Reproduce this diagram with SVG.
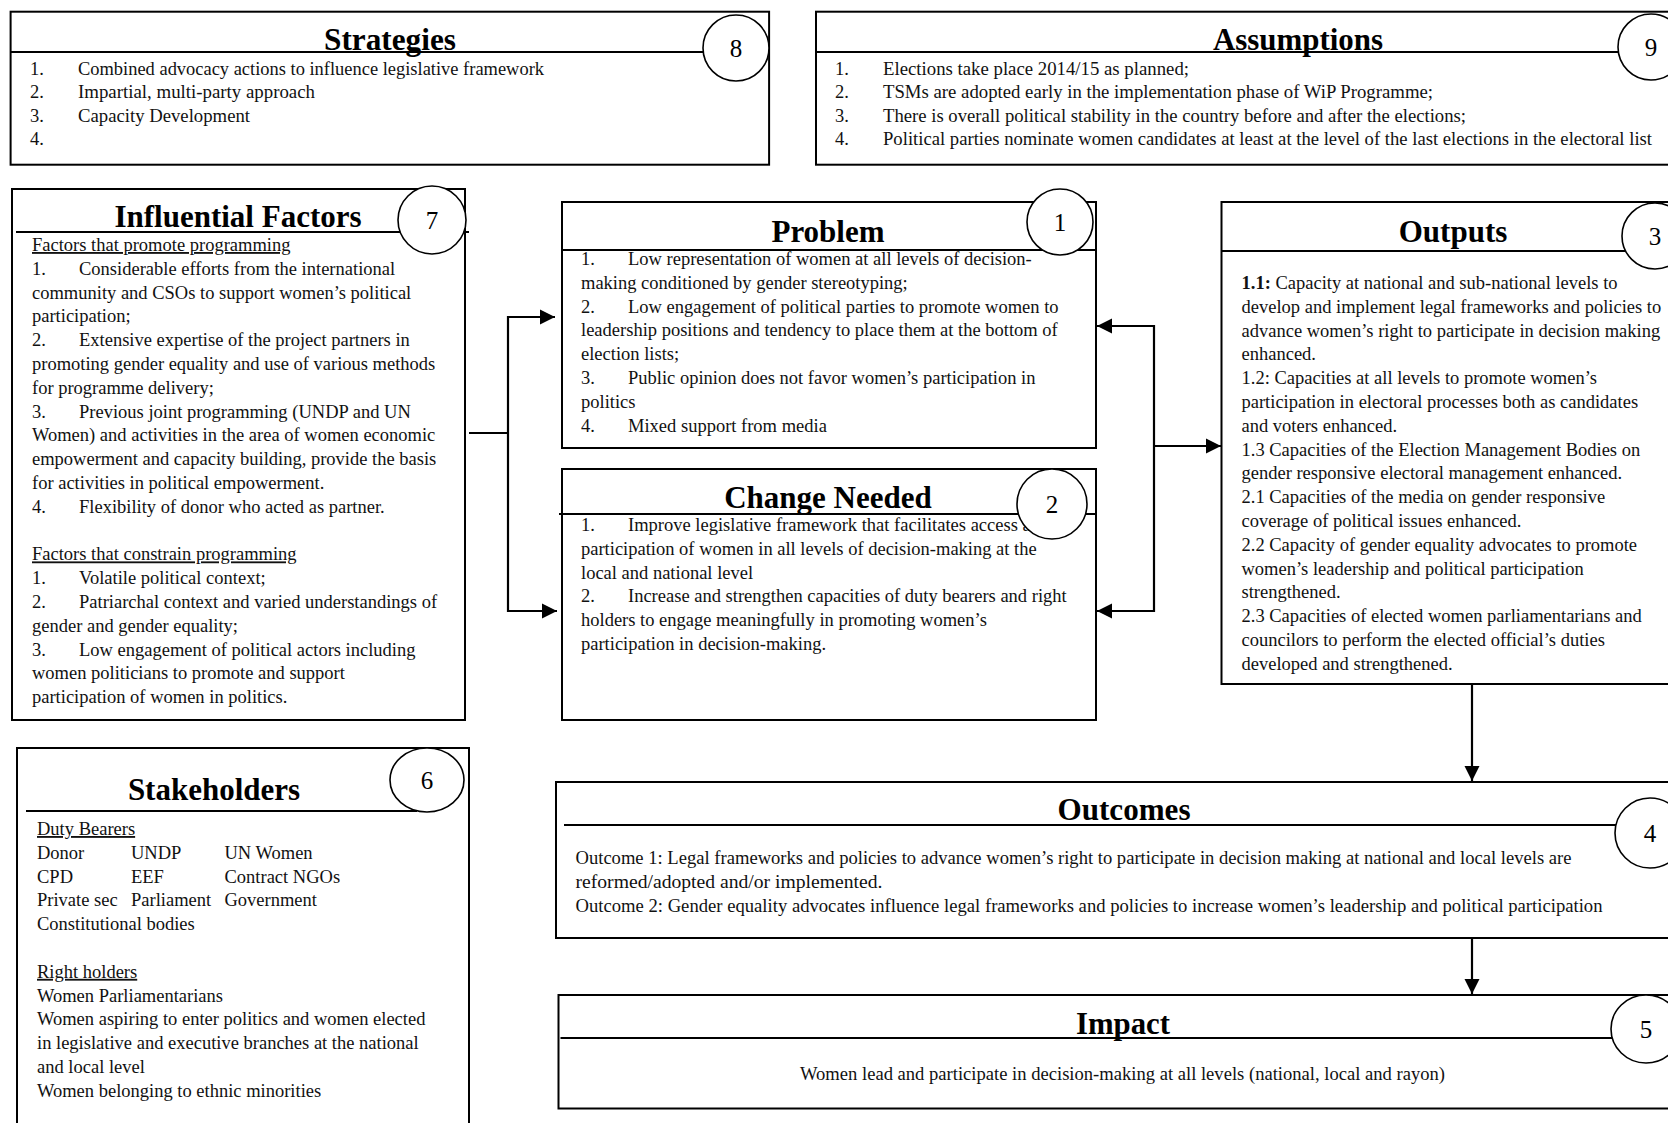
<svg xmlns="http://www.w3.org/2000/svg" width="1668" height="1123" viewBox="0 0 1668 1123">
<style>
.box{fill:#fff;stroke:#000;stroke-width:2}
.hl{stroke:#000;stroke-width:2.2;fill:none}
.cir{fill:#fff;stroke:#000;stroke-width:1.6}
.t{font-family:"Liberation Serif","Times New Roman",serif;font-size:18.5px;fill:#111}
.tc{font-family:"Liberation Serif","Times New Roman",serif;font-size:18.5px;fill:#111}
.h{font-family:"Liberation Serif","Times New Roman",serif;font-weight:bold;font-size:31px;text-anchor:middle;fill:#000}
.n{font-family:"Liberation Serif","Times New Roman",serif;font-size:25px;text-anchor:middle;fill:#000}
.u{text-decoration:underline}
.con{stroke:#000;stroke-width:2.2;fill:none}
</style>
<defs>
<marker id="arr" markerUnits="userSpaceOnUse" markerWidth="16" markerHeight="16" viewBox="0 0 16 16" refX="15" refY="8" orient="auto">
<path d="M0,0.5 L15,8 L0,15.5 Z" fill="#000"/>
</marker>
</defs>
<rect width="1668" height="1123" fill="#fff"/>

<g id="strategies">
<rect class="box" x="10.6" y="11.7" width="758.5" height="153"/>
<line class="hl" x1="10.6" y1="52" x2="710" y2="52"/>
<text class="h" x="390" y="50" textLength="132" lengthAdjust="spacingAndGlyphs">Strategies</text>
<ellipse class="cir" cx="736" cy="48" rx="33" ry="33"/>
<text class="n" x="736" y="57">8</text>
<text class="tc" x="30" y="75">1.</text><text class="tc" x="78" y="75" textLength="466" lengthAdjust="spacingAndGlyphs">Combined advocacy actions to influence legislative framework</text>
<text class="tc" x="30" y="98">2.</text><text class="tc" x="78" y="98" textLength="237" lengthAdjust="spacingAndGlyphs">Impartial, multi-party approach</text>
<text class="tc" x="30" y="121.5">3.</text><text class="tc" x="78" y="121.5" textLength="172" lengthAdjust="spacingAndGlyphs">Capacity Development</text>
<text class="tc" x="30" y="145">4.</text>
</g>

<g id="assumptions">
<rect class="box" x="816" y="11.7" width="880" height="153"/>
<line class="hl" x1="816" y1="52" x2="1625" y2="52"/>
<text class="h" x="1298" y="50" textLength="170" lengthAdjust="spacingAndGlyphs">Assumptions</text>
<ellipse class="cir" cx="1651" cy="47" rx="33" ry="33"/>
<text class="n" x="1651" y="56">9</text>
<text class="tc" x="835" y="75">1.</text><text class="tc" x="883" y="75" textLength="306" lengthAdjust="spacingAndGlyphs">Elections take place 2014/15 as planned;</text>
<text class="tc" x="835" y="98">2.</text><text class="tc" x="883" y="98" textLength="550" lengthAdjust="spacingAndGlyphs">TSMs are adopted early in the implementation phase of WiP Programme;</text>
<text class="tc" x="835" y="121.5">3.</text><text class="tc" x="883" y="121.5" textLength="583" lengthAdjust="spacingAndGlyphs">There is overall political stability in the country before and after the elections;</text>
<text class="tc" x="835" y="145">4.</text><text class="tc" x="883" y="145" textLength="769" lengthAdjust="spacingAndGlyphs">Political parties nominate women candidates at least at the level of the last elections in the electoral list</text>
</g>

<g id="influential-factors">
<rect class="box" x="12" y="189" width="453" height="531"/>
<line class="hl" x1="16" y1="232" x2="469" y2="232"/>
<text class="h" x="238" y="227">Influential Factors</text>
<ellipse class="cir" cx="432" cy="220" rx="34" ry="34"/>
<text class="n" x="432" y="229">7</text>
<text class="t u" x="32" y="251">Factors that promote programming</text>
<text class="t" x="32" y="274.8">1.</text><text class="t" x="79" y="274.8">Considerable efforts from the international</text>
<text class="t" x="32" y="298.6">community and CSOs to support women’s political</text>
<text class="t" x="32" y="322.4">participation;</text>
<text class="t" x="32" y="346.2">2.</text><text class="t" x="79" y="346.2">Extensive expertise of the project partners in</text>
<text class="t" x="32" y="370">promoting gender equality and use of various methods</text>
<text class="t" x="32" y="393.8">for programme delivery;</text>
<text class="t" x="32" y="417.6">3.</text><text class="t" x="79" y="417.6">Previous joint programming (UNDP and UN</text>
<text class="t" x="32" y="441.4">Women) and activities in the area of women economic</text>
<text class="t" x="32" y="465.2">empowerment and capacity building, provide the basis</text>
<text class="t" x="32" y="489">for activities in political empowerment.</text>
<text class="t" x="32" y="512.8">4.</text><text class="t" x="79" y="512.8">Flexibility of donor who acted as partner.</text>
<text class="t u" x="32" y="560.4">Factors that constrain programming</text>
<text class="t" x="32" y="584.2">1.</text><text class="t" x="79" y="584.2">Volatile political context;</text>
<text class="t" x="32" y="608">2.</text><text class="t" x="79" y="608">Patriarchal context and varied understandings of</text>
<text class="t" x="32" y="631.8">gender and gender equality;</text>
<text class="t" x="32" y="655.6">3.</text><text class="t" x="79" y="655.6">Low engagement of political actors including</text>
<text class="t" x="32" y="679.4">women politicians to promote and support</text>
<text class="t" x="32" y="703.2">participation of women in politics.</text>
</g>

<g id="problem">
<rect class="box" x="562" y="202" width="534" height="246"/>
<line class="hl" x1="562" y1="250" x2="1096" y2="250"/>
<text class="h" x="828" y="242">Problem</text>
<ellipse class="cir" cx="1060" cy="222" rx="33" ry="33"/>
<text class="n" x="1060" y="231">1</text>
<text class="t" x="581" y="265">1.</text><text class="t" x="628" y="265">Low representation of women at all levels of decision-</text>
<text class="t" x="581" y="288.8">making conditioned by gender stereotyping;</text>
<text class="t" x="581" y="312.6">2.</text><text class="t" x="628" y="312.6">Low engagement of political parties to promote women to</text>
<text class="t" x="581" y="336.4">leadership positions and tendency to place them at the bottom of</text>
<text class="t" x="581" y="360.2">election lists;</text>
<text class="t" x="581" y="384">3.</text><text class="t" x="628" y="384">Public opinion does not favor women’s participation in</text>
<text class="t" x="581" y="407.8">politics</text>
<text class="t" x="581" y="431.6">4.</text><text class="t" x="628" y="431.6">Mixed support from media</text>
</g>

<g id="change-needed">
<rect class="box" x="562" y="469" width="534" height="251"/>
<text class="t" x="581" y="531">1.</text><text class="t" x="628" y="531">Improve legislative framework that facilitates access and</text>
<text class="t" x="581" y="554.8">participation of women in all levels of decision-making at the</text>
<text class="t" x="581" y="578.6">local and national level</text>
<text class="t" x="581" y="602.4">2.</text><text class="t" x="628" y="602.4">Increase and strengthen capacities of duty bearers and right</text>
<text class="t" x="581" y="626.2">holders to engage meaningfully in promoting women’s</text>
<text class="t" x="581" y="650">participation in decision-making.</text>
<line class="hl" x1="559" y1="514" x2="1096" y2="514"/>
<text class="h" x="828" y="508">Change Needed</text>
<ellipse class="cir" cx="1052" cy="504" rx="35" ry="35"/>
<text class="n" x="1052" y="513">2</text>
</g>

<g id="outputs">
<rect class="box" x="1221.5" y="202" width="470" height="482"/>
<line class="hl" x1="1221.5" y1="251" x2="1625" y2="251"/>
<text class="h" x="1453" y="242">Outputs</text>
<ellipse class="cir" cx="1655" cy="236" rx="33" ry="33"/>
<text class="n" x="1655" y="245">3</text>
<text class="t" x="1241.5" y="289"><tspan font-weight="bold">1.1:</tspan> Capacity at national and sub-national levels to</text>
<text class="t" x="1241.5" y="312.8">develop and implement legal frameworks and policies to</text>
<text class="t" x="1241.5" y="336.6">advance women’s right to participate in decision making</text>
<text class="t" x="1241.5" y="360.4">enhanced.</text>
<text class="t" x="1241.5" y="384.2">1.2: Capacities at all levels to promote women’s</text>
<text class="t" x="1241.5" y="408">participation in electoral processes both as candidates</text>
<text class="t" x="1241.5" y="431.8">and voters enhanced.</text>
<text class="t" x="1241.5" y="455.6">1.3 Capacities of the Election Management Bodies on</text>
<text class="t" x="1241.5" y="479.4">gender responsive electoral management enhanced.</text>
<text class="t" x="1241.5" y="503.2">2.1 Capacities of the media on gender responsive</text>
<text class="t" x="1241.5" y="527">coverage of political issues enhanced.</text>
<text class="t" x="1241.5" y="550.8">2.2 Capacity of gender equality advocates to promote</text>
<text class="t" x="1241.5" y="574.6">women’s leadership and political participation</text>
<text class="t" x="1241.5" y="598.4">strengthened.</text>
<text class="t" x="1241.5" y="622.2">2.3 Capacities of elected women parliamentarians and</text>
<text class="t" x="1241.5" y="646">councilors to perform the elected official’s duties</text>
<text class="t" x="1241.5" y="669.8">developed and strengthened.</text>
</g>

<g id="stakeholders">
<rect class="box" x="17" y="748" width="452" height="400"/>
<line class="hl" x1="26" y1="811" x2="417" y2="811"/>
<text class="h" x="214" y="800">Stakeholders</text>
<ellipse class="cir" cx="427" cy="780" rx="37" ry="32"/>
<text class="n" x="427" y="789">6</text>
<text class="t u" x="37" y="835">Duty Bearers</text>
<text class="t" x="37" y="858.8">Donor</text><text class="t" x="131" y="858.8">UNDP</text><text class="t" x="224.5" y="858.8">UN Women</text>
<text class="t" x="37" y="882.6">CPD</text><text class="t" x="131" y="882.6">EEF</text><text class="t" x="224.5" y="882.6">Contract NGOs</text>
<text class="t" x="37" y="906.4">Private sec</text><text class="t" x="131" y="906.4">Parliament</text><text class="t" x="224.5" y="906.4">Government</text>
<text class="t" x="37" y="930.2">Constitutional bodies</text>
<text class="t u" x="37" y="977.8">Right holders</text>
<text class="t" x="37" y="1001.6">Women Parliamentarians</text>
<text class="t" x="37" y="1025.4">Women aspiring to enter politics and women elected</text>
<text class="t" x="37" y="1049.2">in legislative and executive branches at the national</text>
<text class="t" x="37" y="1073">and local level</text>
<text class="t" x="37" y="1096.8">Women belonging to ethnic minorities</text>
</g>

<g id="outcomes">
<rect class="box" x="556" y="782" width="1140" height="156"/>
<line class="hl" x1="564" y1="825" x2="1616" y2="825"/>
<text class="h" x="1124" y="820" textLength="133" lengthAdjust="spacingAndGlyphs">Outcomes</text>
<ellipse class="cir" cx="1650" cy="833" rx="35" ry="35"/>
<text class="n" x="1650" y="842">4</text>
<text class="tc" x="575.5" y="863.5" textLength="996" lengthAdjust="spacingAndGlyphs">Outcome 1: Legal frameworks and policies to advance women’s right to participate in decision making at national and local levels are</text>
<text class="tc" x="575.5" y="887.5" textLength="307" lengthAdjust="spacingAndGlyphs">reformed/adopted and/or implemented.</text>
<text class="tc" x="575.5" y="911.5" textLength="1027" lengthAdjust="spacingAndGlyphs">Outcome 2: Gender equality advocates influence legal frameworks and policies to increase women’s leadership and political participation</text>
</g>

<g id="impact">
<rect class="box" x="558.5" y="995" width="1140" height="113.5"/>
<line class="hl" x1="560.5" y1="1038" x2="1616" y2="1038"/>
<text class="h" x="1123" y="1034" textLength="94" lengthAdjust="spacingAndGlyphs">Impact</text>
<ellipse class="cir" cx="1646" cy="1029" rx="35" ry="34"/>
<text class="n" x="1646" y="1038">5</text>
<text class="tc" x="1122.5" y="1080" text-anchor="middle" textLength="645" lengthAdjust="spacingAndGlyphs">Women lead and participate in decision-making at all levels (national, local and rayon)</text>
</g>

<g id="connectors">
<path class="con" d="M469,433 H508"/>
<path class="con" d="M508,316 V612"/>
<path class="con" d="M507,317 H555" marker-end="url(#arr)"/>
<path class="con" d="M507,611 H557" marker-end="url(#arr)"/>
<path class="con" d="M1154,325 V612"/>
<path class="con" d="M1155,326 H1097" marker-end="url(#arr)"/>
<path class="con" d="M1155,611 H1097" marker-end="url(#arr)"/>
<path class="con" d="M1155,446 H1221" marker-end="url(#arr)"/>
<path class="con" d="M1472,684 V781" marker-end="url(#arr)"/>
<path class="con" d="M1472,938 V994" marker-end="url(#arr)"/>
</g>
</svg>
